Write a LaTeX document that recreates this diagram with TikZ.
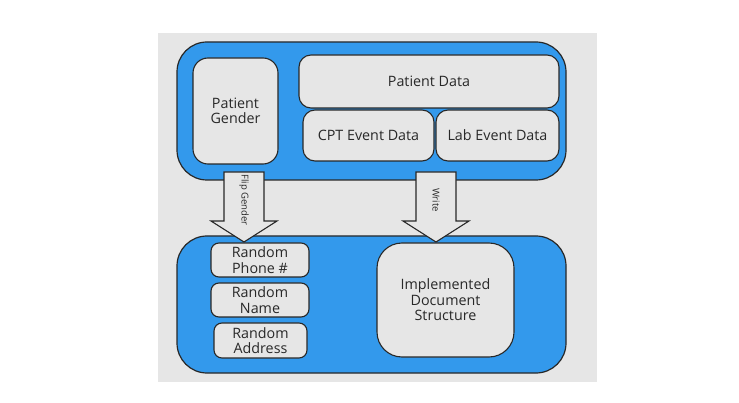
\documentclass[tikz,border=0pt]{standalone}
\usepackage{fontspec}
\setmainfont{Open Sans}
\definecolor{bgray}{RGB}{230,230,230}
\definecolor{bblue}{RGB}{51,153,236}
\definecolor{edge}{RGB}{40,40,40}
\begin{document}
\begin{tikzpicture}[x=1pt,y=-1pt,
  container/.style={draw=edge, line width=1.2pt, fill=bblue, rounded corners=30pt, inner sep=0pt},
  itembox/.style={draw=edge, line width=1.1pt, fill=bgray, inner sep=0pt, align=center, text=edge, font=\fontsize{14.3}{15.5}\selectfont},
  bigarrow/.style={draw=edge, line width=1.1pt, fill=bgray, line join=miter},
  arrowlabel/.style={font=\fontsize{9.5}{10}\selectfont, rotate=-90, inner sep=0pt, text=edge}
]
\useasboundingbox (0,0) rectangle (739,403);
\fill[bgray] (158,33) rectangle (597,382);
% containers
\node[container, minimum width=389pt, minimum height=138pt] (top) at (371.5,111) {};
\node[container, minimum width=389pt, minimum height=137pt] (bottom) at (371.5,304.5) {};
% top items
\node[itembox, rounded corners=15pt, minimum width=85pt, minimum height=106pt] (gender) at (235.5,111) {Patient\\Gender};
\node[itembox, rounded corners=12pt, minimum width=260pt, minimum height=53pt] (pdata) at (429,81.5) {Patient Data};
\node[itembox, rounded corners=12pt, minimum width=131pt, minimum height=51pt] (cpt) at (368.5,135.5) {CPT Event Data};
\node[itembox, rounded corners=12pt, minimum width=123pt, minimum height=51pt] (lab) at (497.5,135.5) {Lab Event Data};
% bottom items
\node[itembox, rounded corners=8pt, minimum width=98pt, minimum height=34pt] (phone) at (260,260) {Random\\Phone \#};
\node[itembox, rounded corners=8pt, minimum width=98pt, minimum height=34pt] (name) at (260,300) {Random\\Name};
\node[itembox, rounded corners=8pt, minimum width=93pt, minimum height=35pt] (addr) at (260.5,340.5) {Random\\Address};
\node[itembox, rounded corners=25pt, minimum width=137pt, minimum height=114pt] (impl) at (445.5,300) {Implemented\\Document\\Structure};
% arrows
\draw[bigarrow] (224,172) -- (264,172) -- (264,221) -- (277,221) -- (244,242) -- (211,221) -- (224,221) -- cycle;
\node[arrowlabel] (flip) at (244,200) {Flip Gender};
\draw[bigarrow] (416,172) -- (456,172) -- (456,221) -- (469,221) -- (436,242) -- (403,221) -- (416,221) -- cycle;
\node[arrowlabel] (write) at (436,200) {Write};
\end{tikzpicture}
\end{document}
